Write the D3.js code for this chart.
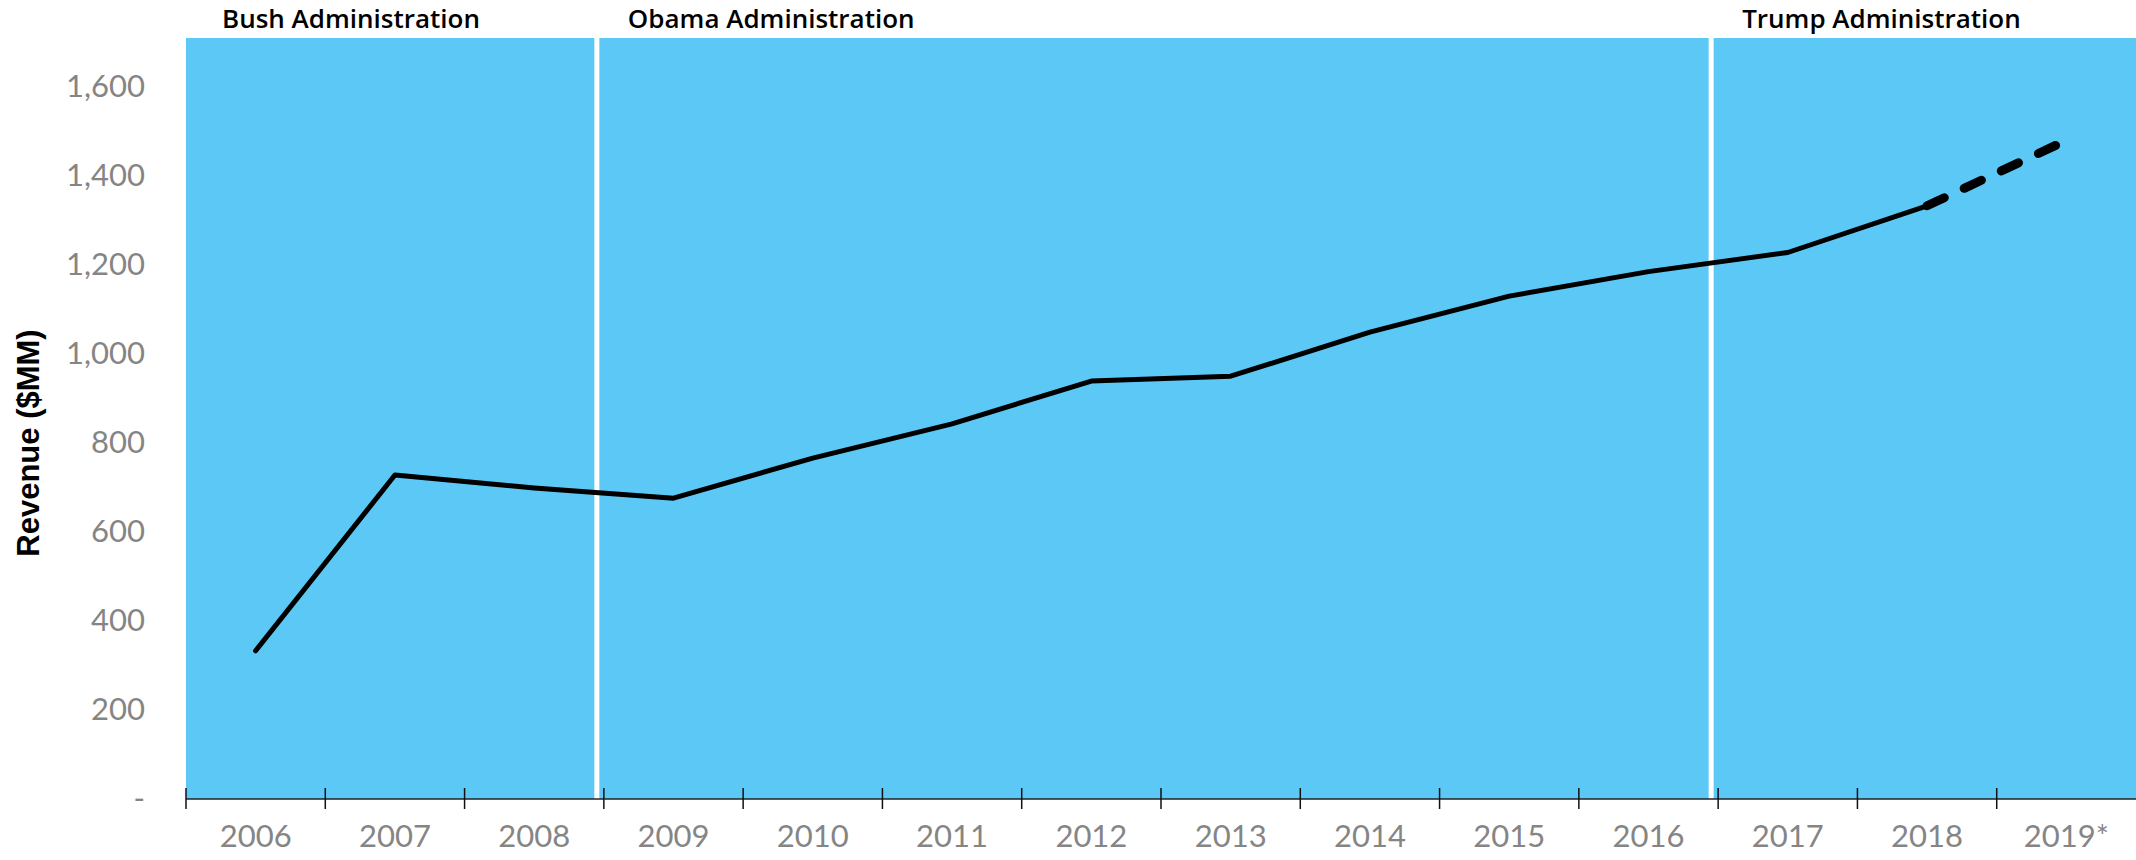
<!DOCTYPE html>
<html>
<head>
<meta charset="utf-8">
<script src="https://cdn.jsdelivr.net/npm/d3@7"></script>
<style>
  html, body { margin: 0; padding: 0; background: #fff; }
  svg { display: block; }
</style>
</head>
<body>
<div id="chart"></div>
<script>
  const years = ["2006", "2007", "2008", "2009", "2010", "2011", "2012", "2013", "2014", "2015", "2016", "2017", "2018", "2019*"];
  const actualYears = ["2006", "2007", "2008", "2009", "2010", "2011", "2012", "2013", "2014", "2015", "2016", "2017", "2018"];
  const actualRevenue = [333, 728, 699, 676, 766, 843, 939, 950, 1049, 1130, 1185, 1228, 1333];
  const projectedYears = ["2018", "2019*"];
  const projectedRevenue = [1333, 1480];
  const yTicks = [0, 200, 400, 600, 800, 1000, 1200, 1400, 1600];
  const adminNames = ["Bush Administration", "Obama Administration", "Trump Administration"];
  const adminStarts = ["2006", "2009", "2017"];

  const width = 2136, height = 860;
  const plotLeft = 186, plotTop = 38, plotBottom = 799;

  const svg = d3.select("#chart").append("svg")
    .attr("width", width)
    .attr("height", height);

  const x = d3.scaleBand().domain(years).range([plotLeft, width]);
  const y = d3.scaleLinear().domain([0, 1710]).range([plotBottom, plotTop]);

  // background panel
  svg.append("rect")
    .attr("x", plotLeft)
    .attr("y", plotTop)
    .attr("width", width - plotLeft)
    .attr("height", plotBottom - plotTop)
    .attr("fill", "#5BC8F5");

  // administration separators
  svg.selectAll("rect.sep")
    .data(adminStarts.slice(1))
    .join("rect")
    .attr("class", "sep")
    .attr("x", d => x(d) - 9.5)
    .attr("y", plotTop)
    .attr("width", 5)
    .attr("height", plotBottom - plotTop)
    .attr("fill", "#fff");

  // administration labels
  svg.selectAll("text.admin")
    .data(adminNames)
    .join("text")
    .attr("class", "admin")
    .attr("x", (d, i) => x(adminStarts[i]) + (i === 0 ? 36 : 24))
    .attr("y", 28)
    .attr("font-family", "'Open Sans', sans-serif")
    .attr("font-weight", 600)
    .attr("font-size", 26)
    .attr("fill", "#000")
    .text(d => d);

  // x axis labels
  const xAxis = svg.append("g")
    .attr("transform", `translate(0,${plotBottom})`)
    .call(d3.axisBottom(x).tickSize(0).tickPadding(26));
  xAxis.select(".domain").remove();
  xAxis.selectAll("text")
    .attr("font-family", "Lato, sans-serif")
    .attr("font-size", 31)
    .attr("fill", "#858585");

  // axis line + boundary ticks
  svg.append("line")
    .attr("x1", plotLeft).attr("x2", width)
    .attr("y1", plotBottom).attr("y2", plotBottom)
    .attr("stroke", "#222").attr("stroke-width", 1.5);
  svg.selectAll("line.btick")
    .data(years)
    .join("line")
    .attr("class", "btick")
    .attr("x1", d => x(d)).attr("x2", d => x(d))
    .attr("y1", plotBottom - 11).attr("y2", plotBottom + 10)
    .attr("stroke", "#111").attr("stroke-width", 1.5);

  // y axis
  const yAxis = svg.append("g")
    .attr("transform", "translate(145,0)")
    .call(d3.axisLeft(y).tickValues(yTicks).tickSize(0).tickPadding(0)
      .tickFormat(d => d === 0 ? "-" : d3.format(",")(d)));
  yAxis.select(".domain").remove();
  yAxis.selectAll("text")
    .attr("font-family", "Lato, sans-serif")
    .attr("font-size", 31)
    .attr("fill", "#858585");

  // y axis title
  svg.append("text")
    .attr("transform", "translate(39,443) rotate(-90)")
    .attr("text-anchor", "middle")
    .attr("font-family", "'Liberation Sans', Arial, sans-serif")
    .attr("font-weight", "bold")
    .attr("font-size", 31)
    .attr("fill", "#000")
    .text("Revenue ($MM)");

  const cx = d => x(d) + x.bandwidth() / 2;

  // actual revenue line
  const actual = actualYears.map((d, i) => ({ year: d, value: actualRevenue[i] }));
  svg.append("path")
    .datum(actual)
    .attr("fill", "none")
    .attr("stroke", "#000")
    .attr("stroke-width", 5)
    .attr("stroke-linejoin", "round")
    .attr("stroke-linecap", "round")
    .attr("d", d3.line().x(d => cx(d.year)).y(d => y(d.value)));

  // projected (dashed)
  const projected = projectedYears.map((d, i) => ({ year: d, value: projectedRevenue[i] }));
  svg.append("path")
    .datum(projected)
    .attr("fill", "none")
    .attr("stroke", "#000")
    .attr("stroke-width", 9)
    .attr("stroke-linecap", "round")
    .attr("stroke-dasharray", "19,22")
    .attr("d", d3.line().x(d => cx(d.year)).y(d => y(d.value)));
</script>
</body>
</html>
